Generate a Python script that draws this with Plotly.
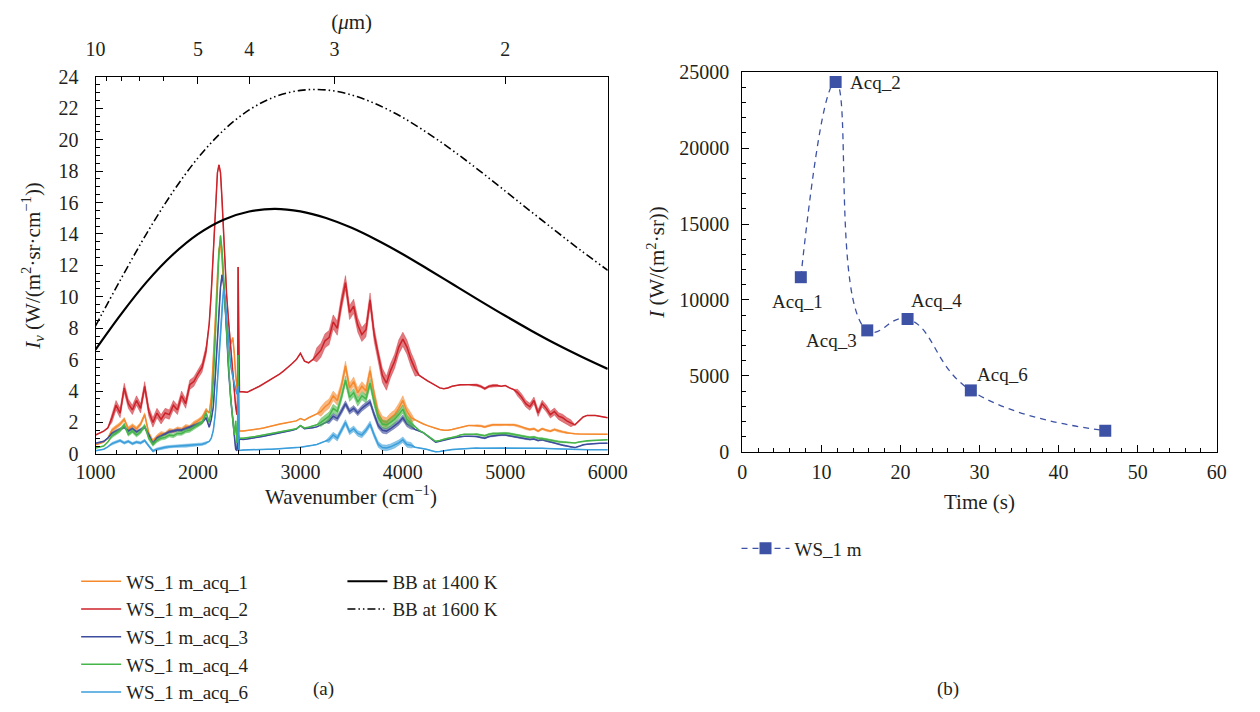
import plotly.graph_objects as go

# ---------------------------------------------------------------- spectra (a)
# sampling grid in wavenumber (cm^-1): coarse below and above the CO2 band,
# finer across the band itself
wn_low = list(range(1000, 2081, 40))
wn_band = [2110, 2130, 2150, 2170, 2190, 2205, 2220, 2235, 2250, 2265, 2280,
           2300, 2320, 2340, 2355, 2368, 2380, 2386, 2392, 2398, 2405]
wn_high = list(range(2440, 6001, 40))
wavenumber = wn_low + wn_band + wn_high

acq_1 = [0.58, 0.65, 0.75, 1.0, 1.5, 1.7, 1.9, 2.2, 1.6, 1.8,
         1.6, 1.9, 2.5, 1.3, 0.8, 1.1, 1.3, 1.25, 1.5, 1.45,
         1.6, 1.55, 1.75, 1.7, 1.95, 2.1, 2.3, 2.8,
         2.6, 3.6, 5.8, 8.6, 11.3, 13.0, 13.4, 12.4, 10.8, 9.3, 8.2,
         7.4, 7.0, 7.4, 6.4, 5.0, 4.2, 4.0, 6.4, 1.8, 1.45,
         1.45, 1.48, 1.52, 1.56, 1.6, 1.65, 1.72, 1.78, 1.85, 1.9,
         1.95, 2.0, 2.05, 2.1, 2.25, 2.15, 2.3, 2.4, 2.55, 2.7,
         3.0, 3.2, 3.7, 3.4, 4.3, 5.6, 4.2, 4.6, 3.9, 4.3,
         4.0, 5.3, 3.8, 2.6, 2.1, 2.0, 2.3, 2.5, 2.9, 3.4,
         2.7, 2.3, 2.15, 2.0, 1.9, 1.8, 1.7, 1.6, 1.55, 1.5,
         1.5, 1.55, 1.62, 1.7, 1.75, 1.8, 1.8, 1.8, 1.78, 1.72,
         1.8, 1.85, 1.85, 1.85, 1.88, 1.85, 1.85, 1.8, 1.7, 1.6,
         1.55, 1.6, 1.45, 1.6, 1.5, 1.45, 1.55, 1.45, 1.4, 1.35,
         1.3, 1.28, 1.27, 1.26, 1.25, 1.25, 1.25, 1.25, 1.25, 1.25]

acq_2 = [1.2, 1.3, 1.45, 1.65, 2.3, 3.1, 2.6, 4.2, 3.2, 2.8,
         3.4, 2.9, 4.3, 2.7, 2.0, 2.6, 2.2, 2.6, 2.5, 3.1,
         2.8, 3.7, 3.2, 4.4, 4.6, 5.1, 5.5, 6.6,
         8.3, 10.3, 12.6, 15.5, 17.9, 18.4, 17.9, 16.2, 14.1, 12.0, 10.1,
         8.3, 6.7, 5.4, 4.0, 3.0, 2.5, 3.4, 11.9, 4.2, 3.95,
         3.95, 3.92, 4.05, 4.15, 4.3, 4.45, 4.6, 4.8, 4.95, 5.1,
         5.3, 5.5, 5.75, 6.0, 6.4, 5.9, 5.8, 6.0, 6.3, 6.6,
         7.2, 7.4, 8.4, 8.0, 9.6, 10.9, 9.0, 9.4, 8.2, 7.6,
         7.9, 9.8, 7.6, 6.2, 5.0, 4.5, 5.3, 5.9, 6.8, 7.3,
         6.8, 6.0, 5.4, 5.0, 4.8, 4.65, 4.5, 4.35, 4.2, 4.15,
         4.2, 4.3, 4.35, 4.4, 4.4, 4.42, 4.4, 4.38, 4.3, 4.15,
         4.3, 4.35, 4.35, 4.3, 4.35, 4.2, 4.1, 3.9, 3.6, 3.2,
         3.0, 3.4, 2.6, 3.2, 2.9, 2.5, 2.7, 2.4, 2.3, 2.1,
         1.95, 1.85, 2.1, 2.35, 2.45, 2.45, 2.45, 2.4, 2.35, 2.3]

acq_3 = [0.68, 0.72, 0.8, 1.0, 1.3, 1.45, 1.6, 1.7, 1.45, 1.6,
         1.4, 1.55, 1.7, 1.2, 0.65, 1.0, 1.15, 1.3, 1.4, 1.45,
         1.5, 1.5, 1.6, 1.65, 1.75, 1.85, 2.0, 2.3,
         1.7, 2.2, 3.0, 5.0, 7.6, 9.2, 10.6, 11.4, 10.8, 9.5, 7.6,
         5.2, 3.5, 2.2, 1.2, 0.3, 0.2, 1.0, 0.5, 0.25, 0.95,
         0.92, 0.95, 0.98, 1.02, 1.08, 1.12, 1.17, 1.22, 1.27, 1.32,
         1.38, 1.44, 1.5, 1.58, 1.8, 1.6, 1.62, 1.66, 1.72, 1.85,
         2.0, 2.1, 2.4, 2.25, 2.7, 3.2, 2.7, 2.9, 2.6, 2.9,
         3.1, 3.3, 2.5, 1.8, 1.5, 1.45, 1.6, 1.8, 2.0, 2.3,
         1.9, 1.75, 1.55, 1.45, 1.35, 1.15, 0.95, 0.75, 0.8, 0.88,
         0.95, 1.0, 1.05, 1.1, 1.12, 1.12, 1.12, 1.1, 1.05, 1.0,
         1.1, 1.15, 1.18, 1.2, 1.2, 1.15, 1.1, 1.05, 1.0, 0.95,
         0.92, 0.95, 0.85, 0.9, 0.82, 0.75, 0.7, 0.62, 0.55, 0.5,
         0.42, 0.4, 0.48, 0.58, 0.62, 0.65, 0.66, 0.67, 0.68, 0.68]

acq_4 = [0.37, 0.45, 0.5, 0.75, 1.15, 1.3, 1.5, 1.85, 1.25, 1.45,
         1.2, 1.4, 1.8, 1.0, 0.6, 0.85, 1.0, 1.05, 1.2, 1.15,
         1.3, 1.3, 1.45, 1.5, 1.7, 1.85, 2.0, 2.6,
         2.0, 2.8, 4.6, 7.6, 10.7, 12.8, 13.9, 13.0, 11.3, 9.4, 7.6,
         5.6, 3.5, 2.3, 1.2, 2.1, 0.7, 0.9, 6.3, 1.2, 1.0,
         1.0, 1.02, 1.06, 1.1, 1.15, 1.2, 1.25, 1.3, 1.35, 1.4,
         1.45, 1.5, 1.55, 1.6, 1.8, 1.65, 1.7, 1.78, 1.85, 2.0,
         2.2, 2.4, 2.9, 2.7, 3.6, 4.7, 3.6, 3.9, 3.3, 3.7,
         3.5, 4.5, 3.3, 2.3, 1.9, 1.85, 2.0, 2.2, 2.5, 2.85,
         2.2, 1.95, 1.7, 1.5, 1.35, 1.15, 0.95, 0.8, 0.85, 0.95,
         1.0, 1.05, 1.1, 1.2, 1.25, 1.25, 1.25, 1.25, 1.2, 1.15,
         1.25, 1.3, 1.3, 1.32, 1.32, 1.3, 1.25, 1.2, 1.15, 1.1,
         1.05, 1.08, 1.0, 0.98, 0.92, 0.88, 0.82, 0.78, 0.75, 0.72,
         0.7, 0.7, 0.75, 0.8, 0.83, 0.85, 0.87, 0.88, 0.9, 0.9]

acq_6 = [0.2, 0.25, 0.3, 0.45, 0.65, 0.75, 0.85, 0.7, 0.8, 0.65,
         0.75, 0.7, 0.85, 0.5, 0.18, 0.3, 0.38, 0.42, 0.46, 0.48,
         0.47, 0.5, 0.5, 0.52, 0.55, 0.58, 0.62, 0.7,
         0.8, 1.0, 1.5, 2.6, 4.6, 6.4, 8.2, 9.7, 10.5, 9.9, 8.7,
         6.9, 5.6, 4.9, 4.4, 4.0, 3.8, 4.0, 4.3, 0.4, 0.22,
         0.25, 0.25, 0.26, 0.26, 0.27, 0.28, 0.29, 0.3, 0.31, 0.32,
         0.34, 0.35, 0.37, 0.4, 0.42, 0.45, 0.5, 0.55, 0.6, 0.7,
         0.8, 0.9, 1.2, 1.0, 1.5, 2.0, 1.4, 1.6, 1.3, 1.2,
         1.5, 1.9, 1.2, 0.6, 0.4, 0.38, 0.45, 0.55, 0.7, 0.9,
         0.6, 0.55, 0.42, 0.38, 0.35, 0.28, 0.2, 0.13, 0.15, 0.2,
         0.25, 0.28, 0.3, 0.32, 0.33, 0.35, 0.36, 0.37, 0.36, 0.36,
         0.38, 0.39, 0.4, 0.4, 0.4, 0.4, 0.39, 0.38, 0.38, 0.37,
         0.37, 0.37, 0.36, 0.36, 0.35, 0.34, 0.33, 0.31, 0.3, 0.28,
         0.27, 0.26, 0.26, 0.26, 0.27, 0.27, 0.27, 0.27, 0.27, 0.27]

# measurement scatter (half-width of the noisy band) per wavenumber range
noise_1 = [(1150, 2080, 0.12), (3200, 4100, 0.3), (4700, 5600, 0.06)]
noise_2 = [(1150, 2080, 0.3), (3150, 4150, 0.45), (4650, 4950, 0.07), (5100, 5650, 0.22)]
noise_3 = [(1150, 2080, 0.08), (3250, 4100, 0.18), (4700, 5600, 0.04)]
noise_4 = [(1150, 2080, 0.12), (3200, 4100, 0.26), (4700, 5600, 0.05)]
noise_6 = [(1150, 2080, 0.08), (3250, 4100, 0.18)]

# blackbody reference curves
bb_wavenumber = list(range(1000, 6001, 250))
bb_1400 = [6.64, 8.90, 10.95, 12.66, 13.99, 14.91, 15.43, 15.60, 15.44, 15.02,
           14.39, 13.60, 12.71, 11.74, 10.75, 9.76, 8.79, 7.86, 6.98, 6.17, 5.41]
bb_1600 = [8.15, 11.16, 14.04, 16.63, 18.84, 20.60, 21.90, 22.73, 23.14, 23.17,
           22.85, 22.24, 21.41, 20.39, 19.25, 18.02, 16.73, 15.43, 14.15, 12.89, 11.69]

spectra_names = ["WS_1 m_acq_1", "WS_1 m_acq_2", "WS_1 m_acq_3",
                 "WS_1 m_acq_4", "WS_1 m_acq_6"]
spectra_colors = ["#f5892d", "#cc2229", "#3d4c9c", "#46b549", "#3a9edb"]
spectra = [acq_1, acq_2, acq_3, acq_4, acq_6]
noise = [noise_1, noise_2, noise_3, noise_4, noise_6]

# wavelength scale on the top axis (um)
wavelength_major = [10, 5, 4, 3, 2]
wavelength_minor = [9, 8, 7, 6]

# ------------------------------------------------------------- intensity (b)
time_s = [7.4, 11.8, 15.8, 20.9, 28.9, 45.9]
intensity = [11500, 24350, 8000, 8750, 4050, 1400]
point_labels = ["Acq_1", "Acq_2", "Acq_3", "Acq_4", "Acq_6", ""]

for name, series in zip(spectra_names, spectra):
    if len(series) != len(wavenumber):
        raise ValueError(f"{name}: {len(series)} values for {len(wavenumber)} points")

FONT = "Liberation Serif, Times New Roman, serif"
INK = "#231f20"
MARK_BLUE = "#3d52a5"
W, H = 1260, 712


def band_halfwidth(ranges):
    out = []
    for w in wavenumber:
        hw = 0.0
        for lo, hi, h in ranges:
            if lo <= w <= hi:
                hw = max(hw, h)
        out.append(hw)
    return out


def hex_rgba(color, alpha):
    r, g, b = (int(color[i:i + 2], 16) for i in (1, 3, 5))
    return f"rgba({r},{g},{b},{alpha})"


fig = go.Figure()

for name, color, series, ranges in zip(spectra_names, spectra_colors, spectra, noise):
    hw = band_halfwidth(ranges)
    upper = [v + h for v, h in zip(series, hw)]
    lower = [max(v - h, 0.0) for v, h in zip(series, hw)]
    fig.add_trace(go.Scatter(
        x=wavenumber + wavenumber[::-1], y=upper + lower[::-1],
        fill="toself", fillcolor=hex_rgba(color, 0.6),
        line=dict(width=0.6, color=hex_rgba(color, 0.6)),
        mode="lines", showlegend=False, hoverinfo="skip",
        xaxis="x", yaxis="y"))
    fig.add_trace(go.Scatter(
        x=wavenumber, y=series, name=name, mode="lines",
        line=dict(color=color, width=1.5), legend="legend",
        xaxis="x", yaxis="y"))

fig.add_trace(go.Scatter(
    x=bb_wavenumber, y=bb_1400, name="BB at 1400 K", mode="lines",
    line=dict(color="black", width=2.2, shape="spline"),
    legend="legend2", xaxis="x", yaxis="y"))
fig.add_trace(go.Scatter(
    x=bb_wavenumber, y=bb_1600, name="BB at 1600 K", mode="lines",
    line=dict(color="black", width=1.6, shape="spline",
              dash="8px,3px,1.5px,3px,1.5px,3px"),
    legend="legend2", xaxis="x", yaxis="y"))

# keep the wavelength axes alive
fig.add_trace(go.Scatter(x=[], y=[], xaxis="x3", yaxis="y",
                         showlegend=False, hoverinfo="skip"))
fig.add_trace(go.Scatter(x=[], y=[], xaxis="x4", yaxis="y",
                         showlegend=False, hoverinfo="skip"))

fig.add_trace(go.Scatter(
    x=time_s, y=intensity, name="WS_1 m", mode="lines+markers",
    line=dict(color=MARK_BLUE, width=1.3, dash="6px,5px",
              shape="spline", smoothing=1.3),
    marker=dict(symbol="square", size=12, color=MARK_BLUE),
    legend="legend3", xaxis="x2", yaxis="y2"))

label_style = {
    "Acq_1": dict(xanchor="center", yanchor="top", xshift=-3, yshift=-12),
    "Acq_2": dict(xanchor="left", yanchor="middle", xshift=12, yshift=-1),
    "Acq_3": dict(xanchor="right", yanchor="middle", xshift=-8, yshift=-10),
    "Acq_4": dict(xanchor="left", yanchor="middle", xshift=1, yshift=18),
    "Acq_6": dict(xanchor="left", yanchor="middle", xshift=4, yshift=16),
}
for t, v, label in zip(time_s, intensity, point_labels):
    if not label:
        continue
    fig.add_annotation(x=t, y=v, xref="x2", yref="y2", text=label,
                       showarrow=False, font=dict(family=FONT, size=19, color=INK),
                       **label_style[label])

tick_font = dict(family=FONT, size=20, color=INK)
title_font = dict(family=FONT, size=21, color=INK)
legend_font = dict(family=FONT, size=19, color=INK)
caption_font = dict(family=FONT, size=19, color=INK)

# panel captions and the wavenumber axis title
fig.add_annotation(x=342 / W, y=1 - 500 / H, xref="paper", yref="paper",
                   text="Wavenumber (cm<sup>−1</sup>)", showarrow=False,
                   xanchor="center", yanchor="middle", font=title_font)
for text, xpx in (("(a)", 313), ("(b)", 958)):
    fig.add_annotation(x=xpx / W, y=1 - 700 / H, xref="paper", yref="paper",
                       text=text, showarrow=False, xanchor="center",
                       yanchor="middle", font=caption_font)

common = dict(showline=True, linecolor="black", linewidth=1.2, mirror=True,
              ticks="inside", tickcolor="black", tickwidth=1, showgrid=False,
              zeroline=False, tickfont=tick_font)

left_dom = [78 / W, 607 / W]
right_dom = [746 / W, 1236 / W]

fig.update_layout(
    width=W, height=H,
    margin=dict(l=0, r=0, t=0, b=0),
    paper_bgcolor="white", plot_bgcolor="white",
    font=dict(family=FONT, color=INK),
    xaxis=dict(domain=left_dom, range=[1000, 6000], dtick=1000, tick0=1000,
               ticklen=7, anchor="y", ticklabelstandoff=0,
               minor=dict(dtick=200, ticklen=4, ticks="inside", tickcolor="black"),
               **common),
    yaxis=dict(domain=[1 - 457 / H, 1 - 68 / H], range=[0, 24], dtick=2,
               ticklen=7, anchor="x", ticklabelstandoff=12,
               minor=dict(dtick=0.5, ticklen=4, ticks="inside", tickcolor="black"),
               title=dict(text="<i>I</i><sub><i>ν</i></sub> (W/(m<sup>2</sup>·sr·cm<sup>−1</sup>))",
                          font=title_font, standoff=12),
               **common),
    xaxis3=dict(overlaying="x", side="top", anchor="y", range=[1000, 6000],
                tickmode="array",
                tickvals=[1e4 / w for w in wavelength_major],
                ticktext=[str(w) for w in wavelength_major],
                ticks="inside", ticklen=7, tickcolor="black", showline=False,
                showgrid=False, zeroline=False, tickfont=tick_font,
                ticklabelstandoff=16,
                title=dict(text="(<i>μ</i>m)", font=title_font, standoff=2)),
    xaxis4=dict(overlaying="x", side="top", anchor="y", range=[1000, 6000],
                tickmode="array",
                tickvals=[1e4 / w for w in wavelength_minor],
                ticks="inside", ticklen=4, tickcolor="black", showline=False,
                showticklabels=False, showgrid=False, zeroline=False),
    xaxis2=dict(domain=right_dom, range=[0, 60], dtick=10, ticklen=7, anchor="y2",
                ticklabelstandoff=2,
                minor=dict(dtick=2, ticklen=4, ticks="inside", tickcolor="black"),
                title=dict(text="Time (s)", font=title_font, standoff=12),
                **common),
    yaxis2=dict(domain=[1 - 455 / H, 1 - 63 / H], range=[0, 25000],
                dtick=5000, ticklen=7, anchor="x2", tickformat="d",
                ticklabelstandoff=8,
                minor=dict(dtick=1000, ticklen=4, ticks="inside", tickcolor="black"),
                title=dict(text="<i>I</i> (W/(m<sup>2</sup>·sr))",
                           font=title_font, standoff=8),
                **common),
    legend=dict(x=58 / W, y=1 - 569 / H, xanchor="left", yanchor="top",
                bgcolor="rgba(0,0,0,0)", font=legend_font,
                tracegroupgap=0, itemwidth=40),
    legend2=dict(x=333 / W, y=1 - 569 / H, xanchor="left", yanchor="top",
                 bgcolor="rgba(0,0,0,0)", font=legend_font, itemwidth=40),
    legend3=dict(x=740 / W, y=1 - 535 / H, xanchor="left", yanchor="top",
                 bgcolor="rgba(0,0,0,0)", font=legend_font, itemwidth=48),
    showlegend=True,
)

fig.write_html("out.html")
